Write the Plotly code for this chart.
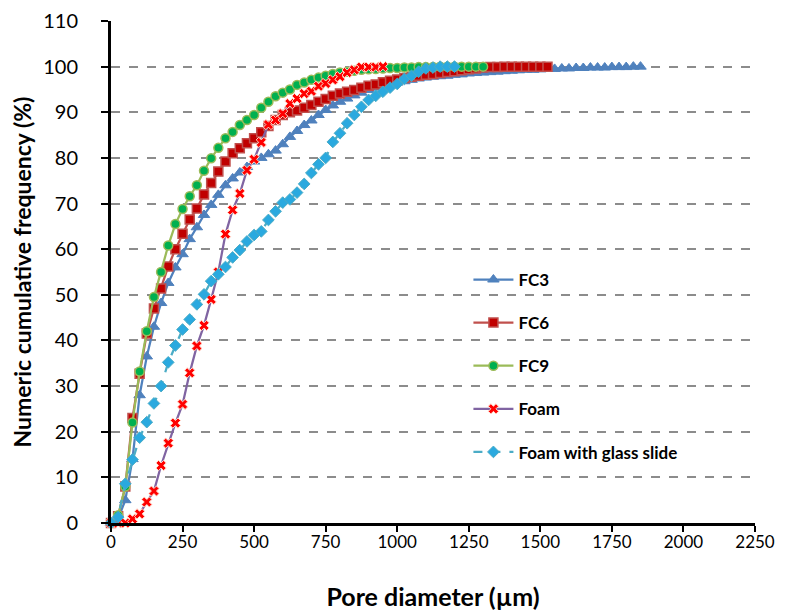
import plotly.graph_objects as go

# Pore diameter (µm) grid used by all series
diameter = [0, 25, 50, 75, 100, 125, 150, 175, 200, 225, 250, 275, 300, 325, 350, 375,
            400, 425, 450, 475, 500, 525, 550, 575, 600, 625, 650, 675, 700, 725, 750, 775,
            800, 825, 850, 875, 900, 925, 950, 975, 1000, 1025, 1050, 1075, 1100, 1125,
            1150, 1175, 1200, 1225, 1250, 1275, 1300, 1325, 1350, 1375, 1400, 1425, 1450,
            1475, 1500, 1525, 1550, 1575, 1600, 1625, 1650, 1675, 1700, 1725, 1750, 1775,
            1800, 1825, 1850]

fc3 = [0, 1, 5, 14, 28, 36.5, 43, 48.2, 52.6, 56, 58.9, 62.2, 64.8, 67.5, 69.7, 71.9,
       74, 75.5, 76.8, 78, 79.2, 80, 80.8, 81.6, 83, 84.6, 85.9, 87.2, 88.2, 89.4, 90.5,
       91.5, 92.3, 93, 93.7, 94.3, 94.9, 95.4, 95.8, 96.1, 96.5, 96.8, 97.1, 97.4, 97.6,
       97.8, 97.9, 98, 98.2, 98.3, 98.5, 98.6, 98.7, 98.8, 98.9, 99, 99.1, 99.2, 99.3,
       99.3, 99.4, 99.5, 99.5, 99.6, 99.6, 99.7, 99.7, 99.8, 99.8, 99.8, 99.9, 99.9,
       99.9, 100, 100]

fc6 = [0, 1.5, 8, 23, 32.7, 41.5, 47, 51.4, 56.2, 60, 63.4, 66.5, 68.9, 72, 74.5, 77,
       79.2, 81, 82.1, 83.2, 84.3, 85.6, 87, 88.3, 89.4, 90, 90.4, 91, 91.6, 92.3, 92.9,
       93.6, 94.1, 94.5, 94.9, 95.4, 95.8, 96.1, 96.6, 96.9, 97.2, 97.5, 97.8, 98, 98.2,
       98.4, 98.6, 98.8, 99, 99.2, 99.4, 99.6, 99.8, 99.9, 99.9, 100, 100, 100, 100, 100,
       100, 100]

fc9 = [0, 1.7, 8, 22, 33.2, 42, 49.5, 55, 60.8, 65.5, 68.8, 71.6, 74, 77.2, 79.9, 82.2,
       84.3, 85.7, 87.2, 88.3, 89.4, 91, 92.3, 93.5, 94.3, 95, 96, 96.5, 97.1, 97.6, 98,
       98.4, 98.7, 98.9, 99.1, 99.3, 99.4, 99.5, 99.6, 99.7, 99.7, 99.8, 99.8, 99.9, 99.9,
       99.9, 100, 100, 100, 100, 100, 100, 100]

foam = [0, 0, 0, 0.9, 2.0, 4.6, 7.0, 12.6, 17.5, 21.9, 26.0, 32.9, 38.8, 43.3, 49.0, 55.0,
        63.3, 68.6, 72.2, 77.3, 79.7, 83.4, 87.3, 88.3, 89.7, 91.9, 93.0, 94.1, 94.6, 95.7,
        96.3, 97.1, 97.8, 98.7, 99.3, 99.9, 99.9, 99.9, 100]

foam_glass = [0, 1.3, 8.6, 13.9, 18.7, 22.1, 26.2, 30.0, 35.2, 38.9, 42.4, 44.6, 47.9, 50.1,
              53.0, 54.5, 56.1, 58.2, 59.8, 61.7, 63.1, 63.9, 66.4, 68.3, 70.2, 70.9, 72.4,
              74.3, 76.7, 78.6, 80.0, 83.5, 85.4, 87.6, 89.4, 91.2, 92.7, 93.6, 94.5, 95.4,
              96.2, 97.3, 98.0, 98.9, 99.6, 99.8, 100, 100, 100]

x_ticks = [0, 250, 500, 750, 1000, 1250, 1500, 1750, 2000, 2250]
y_ticks = [0, 10, 20, 30, 40, 50, 60, 70, 80, 90, 100, 110]

fig = go.Figure()

fig.add_trace(go.Scatter(
    x=diameter[:len(fc3)], y=fc3, name="FC3", mode="lines+markers", legendgroup="a",
    line=dict(color="#4F81BD", width=2.25),
    marker=dict(symbol="triangle-up", size=10, color="#4F81BD",
                line=dict(color="#4F81BD", width=1)),
    cliponaxis=False))
fig.add_trace(go.Scatter(
    x=diameter[:len(fc6)], y=fc6, name="FC6", mode="lines+markers", legendgroup="b",
    line=dict(color="#C0504D", width=2.25),
    marker=dict(symbol="square", size=9, color="#C00000",
                line=dict(color="#C0504D", width=1.5)),
    cliponaxis=False))
fig.add_trace(go.Scatter(
    x=diameter[:len(fc9)], y=fc9, name="FC9", mode="lines+markers", legendgroup="c",
    line=dict(color="#9BBB59", width=2.25),
    marker=dict(symbol="circle", size=9, color="#00B050",
                line=dict(color="#9BBB59", width=1.5)),
    cliponaxis=False))
fig.add_trace(go.Scatter(
    x=diameter[:len(foam)], y=foam, name="Foam", mode="lines+markers", legendgroup="d",
    line=dict(color="#8064A2", width=2.25),
    marker=dict(symbol="x", size=9, color="#FF0000",
                line=dict(color="#FFD8C8", width=1)),
    cliponaxis=False))
fig.add_trace(go.Scatter(
    x=diameter[:len(foam_glass)], y=foam_glass, name="Foam with glass slide",
    mode="lines+markers", legendgroup="e",
    line=dict(color="#4BACC6", width=2.25, dash="dash"),
    marker=dict(symbol="diamond", size=9, color="#2AA9DF",
                line=dict(color="#4BACC6", width=1)),
    cliponaxis=False))

fig.update_layout(
    width=785, height=615,
    margin=dict(l=103, r=38, t=13, b=100),
    plot_bgcolor="white", paper_bgcolor="white",
    font=dict(family="Lato", color="black"),
    legend=dict(x=0.555, y=0.52, xanchor="left", yanchor="top",
                font=dict(family="Lato", size=17, color="black", weight="bold"),
                bgcolor="rgba(0,0,0,0)", tracegroupgap=18, itemwidth=40),
    xaxis=dict(range=[0, 2250], tickvals=x_ticks, ticktext=[str(v) for v in x_ticks],
               automargin=False,
               showline=True, linecolor="black", linewidth=3,
               ticks="outside", ticklen=6, tickwidth=2, tickcolor="black",
               showgrid=False, zeroline=False, ticklabelstandoff=-4,
               tickfont=dict(size=17, family="Lato", color="black"),
               title=dict(text="<b>Pore diameter (µm)</b>",
                          font=dict(size=25, family="Lato", color="black"), standoff=38)),
    yaxis=dict(range=[0, 110], tickvals=y_ticks, ticktext=[str(v) for v in y_ticks],
               automargin=False,
               showline=True, linecolor="black", linewidth=3,
               ticks="outside", ticklen=7, tickwidth=2, tickcolor="black",
               showgrid=True, gridcolor="#8C8C8C", griddash="dash", gridwidth=1.5,
               zeroline=False, ticklabelstandoff=19,
               tickfont=dict(size=20, family="Lato", color="black"),
               title=dict(text="<b>Numeric cumulative frequency (%)</b>",
                          font=dict(size=23, family="Lato", color="black"), standoff=12)),
)

fig.write_html("out.html")
